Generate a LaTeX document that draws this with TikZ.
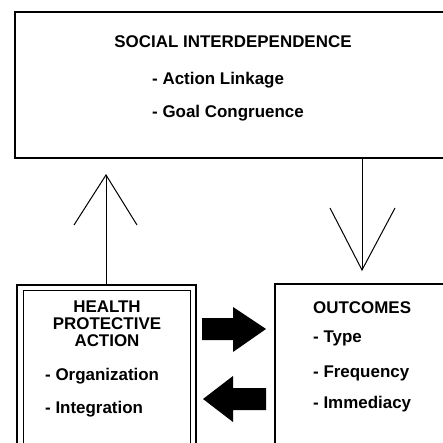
\documentclass[tikz,border=0pt]{standalone}
\usepackage{fontspec}
\setmainfont{Liberation Sans}
\tikzset{
  lbl/.style={inner sep=0pt, font=\fontsize{17}{17}\selectfont\bfseries},
  thinarrow/.style={line width=1bp, line join=miter},
  fatarrow/.style={draw=none, fill=black},
}
\begin{document}
\begin{tikzpicture}[x=1bp,y=-1bp]
\useasboundingbox (0,0) rectangle (443,443);
% boxes
\coordinate (socNW) at (15,12);
\coordinate (socSE) at (450,158);
\coordinate (hpaNW) at (17,285);
\coordinate (hpaSE) at (196,485);
\coordinate (hpiNW) at (23,290);
\coordinate (hpiSE) at (190,485);
\coordinate (outNW) at (275,284);
\coordinate (outSE) at (455,484);
\draw[line width=1.5bp] (socNW) rectangle (socSE);
\draw[line width=1.8bp] (hpaNW) rectangle (hpaSE);
\draw[line width=1bp] (hpiNW) rectangle (hpiSE);
\draw[line width=1.2bp] (outNW) rectangle (outSE);
% texts
\node[lbl, anchor=base] (t0) at (233,48) {SOCIAL INTERDEPENDENCE};
\node[lbl, anchor=base west] (t1) at (152,85) {- Action Linkage};
\node[lbl, anchor=base west] (t2) at (152,118) {- Goal Congruence};
\node[lbl, anchor=base] (h1) at (107,312) {HEALTH};
\node[lbl, anchor=base] (h2) at (107,329) {PROTECTIVE};
\node[lbl, anchor=base] (h3) at (107,346) {ACTION};
\node[lbl, anchor=base west] (h4) at (45,380) {- Organization};
\node[lbl, anchor=base west] (h5) at (45,413) {- Integration};
\node[lbl, anchor=base west] (o0) at (313,313) {OUTCOMES};
\node[lbl, anchor=base west] (o1) at (313,342) {- Type};
\node[lbl, anchor=base west] (o2) at (313,377) {- Frequency};
\node[lbl, anchor=base west] (o3) at (313,408) {- Immediacy};
% thin arrows
\coordinate (upS) at (106,285);
\coordinate (upT) at (106,175);
\coordinate (upL) at (74,225);
\coordinate (upR) at (137,225);
\draw[thinarrow] (upS) -- (upT);
\draw[thinarrow] (upL) -- (upT) -- (upR);
\coordinate (dnS) at (362,158);
\coordinate (dnT) at (362,270);
\coordinate (dnL) at (330,208);
\coordinate (dnR) at (395,208);
\draw[thinarrow] (dnS) -- (dnT);
\draw[thinarrow] (dnL) -- (dnT) -- (dnR);
% fat arrows
\fill[fatarrow] (202,318) -- (233,318) -- (233,307) -- (266,329) -- (233,352) -- (233,340) -- (202,340) -- cycle;
\fill[fatarrow] (266,388) -- (233,388) -- (233,376) -- (203,399) -- (233,422) -- (233,410) -- (266,410) -- cycle;
\end{tikzpicture}
\end{document}
